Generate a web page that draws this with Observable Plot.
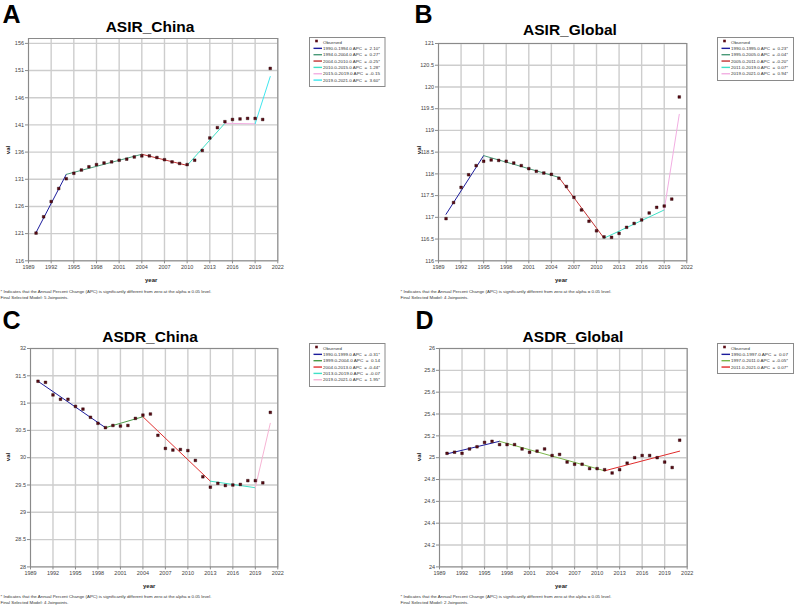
<!DOCTYPE html>
<html>
<head>
<meta charset="utf-8">
<script src="https://cdn.jsdelivr.net/npm/d3@7"></script>
<script src="https://cdn.jsdelivr.net/npm/@observablehq/plot@0.6"></script>
<style>
  html, body { margin: 0; padding: 0; background: #fff; }
  #page { position: relative; width: 797px; height: 611px; overflow: hidden; font-family: "Liberation Sans", Arial, sans-serif; }
  .abs { position: absolute; white-space: nowrap; }
  .letter { font-weight: bold; font-size: 25px; line-height: 1; color: #000; }
  .title { font-weight: bold; font-size: 15.5px; line-height: 1; color: #000; text-align: center; width: 200px; }
  .axlab { font-weight: bold; font-size: 6px; line-height: 1; color: #222; }
</style>
</head>
<body>
<div id="page"></div>
<script>
// ---------------- DATA ----------------
const years = [1990,1991,1992,1993,1994,1995,1996,1997,1998,1999,2000,2001,2002,2003,2004,2005,2006,2007,2008,2009,2010,2011,2012,2013,2014,2015,2016,2017,2018,2019,2020,2021];

const asirChina = [121.1,124.1,126.9,129.3,131.1,132.1,132.7,133.3,133.7,134.0,134.2,134.5,134.7,135.1,135.3,135.3,135.0,134.6,134.2,133.9,133.7,134.5,136.3,138.6,140.5,141.6,142.0,142.1,142.2,142.2,142.0,151.4];
const asirGlobal = [116.97,117.34,117.69,117.98,118.19,118.29,118.32,118.31,118.29,118.25,118.19,118.12,118.06,118.02,117.99,117.90,117.71,117.46,117.17,116.91,116.69,116.55,116.54,116.63,116.77,116.86,116.94,117.10,117.23,117.26,117.42,119.77];
const asdrChina = [31.40,31.38,31.15,31.07,31.07,30.94,30.89,30.74,30.63,30.55,30.59,30.58,30.59,30.72,30.78,30.80,30.41,30.17,30.14,30.15,30.13,29.95,29.65,29.46,29.53,29.49,29.50,29.51,29.58,29.58,29.54,30.83];
const asdrGlobal = [25.04,25.05,25.04,25.08,25.10,25.14,25.15,25.12,25.12,25.12,25.08,25.05,25.06,25.08,25.02,25.03,24.96,24.94,24.94,24.90,24.90,24.89,24.86,24.89,24.95,25.00,25.02,25.02,25.00,24.96,24.91,25.16];

// joinpoint fitted values at segment ends
const asirChinaJoinYears = [1990,1994,2004,2010,2015,2019,2021];
const asirChinaJoinVals  = [121.2,131.9,135.6,133.55,141.3,141.2,149.9];
const asirGlobalJoinYears = [1990,1995,2005,2011,2019,2021];
const asirGlobalJoinVals  = [117.07,118.42,117.92,116.52,117.17,119.37];
const asdrChinaJoinYears = [1990,1999,2004,2013,2019,2021];
const asdrChinaJoinVals  = [31.40,30.55,30.75,29.57,29.45,30.63];
const asdrGlobalJoinYears = [1990,1997,2011,2021];
const asdrGlobalJoinVals  = [25.035,25.15,24.88,25.06];

const asirChinaLegend = ["1990.0-1994.0 APC  =  2.10*","1994.0-2004.0 APC  =  0.27*","2004.0-2010.0 APC  = -0.25*","2010.0-2015.0 APC  =  1.28*","2015.0-2019.0 APC  = -0.15","2019.0-2021.0 APC  =  3.60*"];
const asirGlobalLegend = ["1990.0-1995.0 APC  =  0.23*","1995.0-2005.0 APC  = -0.04*","2005.0-2011.0 APC  = -0.20*","2011.0-2019.0 APC  =  0.07*","2019.0-2021.0 APC  =  0.94*"];
const asdrChinaLegend = ["1990.0-1999.0 APC  = -0.31*","1999.0-2004.0 APC  =  0.14","2004.0-2013.0 APC  = -0.44*","2013.0-2019.0 APC  = -0.07","2019.0-2021.0 APC  =  1.95*"];
const asdrGlobalLegend = ["1990.0-1997.0 APC  =  0.07","1997.0-2011.0 APC  = -0.05*","2011.0-2021.0 APC  =  0.07*"];

const xTicks = [1989,1992,1995,1998,2001,2004,2007,2010,2013,2016,2019,2022];
const asirChinaTicks = [116,121,126,131,136,141,146,151,156];
const asirGlobalTicks = [116,116.5,117,117.5,118,118.5,119,119.5,120,120.5,121];
const asdrChinaTicks = [28,28.5,29,29.5,30,30.5,31,31.5,32];
const asdrGlobalTicks = [24,24.2,24.4,24.6,24.8,25,25.2,25.4,25.6,25.8,26];

const footLine1 = "* Indicates that the Annual Percent Change (APC) is significantly different from zero at the alpha = 0.05 level.";

// ---------------- STYLE / LAYOUT ----------------
const segColors6 = ["#1c1c9c","#4a9a78","#c23232","#3fe0c6","#f2aee2","#3ee6ee"];
const segColorsD = ["#1c1c9c","#7ab64a","#e02a2a"];

const panels = [
  {letter:"A", title:"ASIR_China", obs: asirChina, jy: asirChinaJoinYears, jv: asirChinaJoinVals, legend: asirChinaLegend, colors: segColors6,
   yDomain:[116,156.9], yTicks: asirChinaTicks, frame:[27.7,277,37.7,260], letterPos:[2.5,1.5], titleX:150, titleTop:18.9,
   legendBox:[308.7,37.3,75.5,49], yearPos:[152,280], valPos:[8.3,150], footTop:293, footLeft:0, model:"Final Selected Model: 5 Joinpoints."},
  {letter:"B", title:"ASIR_Global", obs: asirGlobal, jy: asirGlobalJoinYears, jv: asirGlobalJoinVals, legend: asirGlobalLegend, colors: segColors6,
   yDomain:[116,121], yTicks: asirGlobalTicks, frame:[437.7,686,42.7,260], letterPos:[414.5,2], titleX:570, titleTop:21.9,
   legendBox:[717.3,37.3,76,43], yearPos:[562,280], valPos:[419,150], footTop:293, footLeft:400, model:"Final Selected Model: 4 Joinpoints."},
  {letter:"C", title:"ASDR_China", obs: asdrChina, jy: asdrChinaJoinYears, jv: asdrChinaJoinVals, legend: asdrChinaLegend, colors: ["#1c1c9c","#4a9a48","#e03030","#3fe0c6","#f6b4d4"],
   yDomain:[28,32], yTicks: asdrChinaTicks, frame:[29.7,277,348.3,566.7], letterPos:[2.5,307.5], titleX:150, titleTop:328.6,
   legendBox:[308.7,343.3,75.5,43], yearPos:[150,586], valPos:[8.3,457], footTop:598.3, footLeft:0, model:"Final Selected Model: 4 Joinpoints."},
  {letter:"D", title:"ASDR_Global", obs: asdrGlobal, jy: asdrGlobalJoinYears, jv: asdrGlobalJoinVals, legend: asdrGlobalLegend, colors: segColorsD,
   yDomain:[24,26], yTicks: asdrGlobalTicks, frame:[439,686.7,348.3,566.7], letterPos:[415.5,308], titleX:573, titleTop:328.6,
   legendBox:[717.3,343.3,76,30], yearPos:[562,586], valPos:[419,457], footTop:598.3, footLeft:400, model:"Final Selected Model: 2 Joinpoints."}
];

const page = document.getElementById("page");
function addDiv(cls, text, left, top, extra) {
  const d = document.createElement("div");
  d.className = "abs " + cls;
  if (text !== null) d.textContent = text;
  d.style.left = left + "px";
  d.style.top = top + "px";
  if (extra) Object.assign(d.style, extra);
  page.appendChild(d);
  return d;
}
function addSvg(left, top, w, h) {
  const s = d3.create("svg").attr("width", w).attr("height", h)
    .style("position", "absolute").style("left", left + "px").style("top", top + "px").style("overflow", "visible");
  page.appendChild(s.node());
  return s;
}
const fmt = d => String(+d.toFixed(2));
const FONT = "'Liberation Sans', Arial, sans-serif";

for (const p of panels) {
  const [fx0, fx1, fy0, fy1] = p.frame;
  const mL = 30, mR = 10, mT = 10, mB = 30;
  const W = (fx1 - fx0) + mL + mR, H = (fy1 - fy0) + mT + mB;

  const obsData = years.map((y, i) => ({year: y, val: p.obs[i]}));
  const segMarks = [];
  for (let i = 0; i < p.jy.length - 1; i++) {
    const seg = [{year: p.jy[i], val: p.jv[i]}, {year: p.jy[i+1], val: p.jv[i+1]}];
    segMarks.push(Plot.line(seg, {x: "year", y: "val", stroke: p.colors[i], strokeWidth: 1}));
  }

  const chart = Plot.plot({
    width: W, height: H,
    marginLeft: mL, marginRight: mR, marginTop: mT, marginBottom: mB,
    x: {domain: [1989, 2022]},
    y: {domain: p.yDomain},
    style: {fontSize: "5.5px", fontFamily: FONT, color: "#444", background: "transparent", overflow: "visible"},
    marks: [
      Plot.gridX({ticks: xTicks, stroke: "#cdcdcd", strokeOpacity: 1, strokeWidth: 1.4}),
      Plot.gridY({ticks: p.yTicks, stroke: "#cdcdcd", strokeOpacity: 1, strokeWidth: 1.4}),
      Plot.frame({stroke: "#8a8a8a", strokeWidth: 1}),
      Plot.axisX({ticks: xTicks, tickFormat: d => String(d), tickSize: 3, tickPadding: 1.5, label: null, stroke: "#8a8a8a"}),
      Plot.axisY({ticks: p.yTicks, tickFormat: fmt, tickSize: 3, tickPadding: 1.5, label: null, stroke: "#8a8a8a"}),
      ...segMarks,
      Plot.dot(obsData, {x: "year", y: "val", symbol: "square", r: 1.5, fill: "#5a0a14", stroke: "#200005", strokeWidth: 0.4})
    ]
  });
  chart.style.position = "absolute";
  chart.style.left = (fx0 - mL) + "px";
  chart.style.top = (fy0 - mT) + "px";
  page.appendChild(chart);

  // letter & title
  addDiv("letter", p.letter, p.letterPos[0], p.letterPos[1]);
  addDiv("title", p.title, p.titleX - 100, p.titleTop);

  // axis labels
  addDiv("axlab", "year", p.yearPos[0] - 7, p.yearPos[1] - 3);
  addDiv("axlab", "val", p.valPos[0] - 5, p.valPos[1] - 3, {transform: "rotate(-90deg)", transformOrigin: "50% 50%", width: "10px", textAlign: "center"});

  // footnotes (SVG text with fixed lengths)
  const fs = addSvg(p.footLeft, p.footTop - 3, 260, 12);
  fs.append("text").attr("x", 0.5).attr("y", 3.2).attr("font-family", FONT).attr("font-size", 4.3).attr("fill", "#333")
    .attr("textLength", 211).attr("lengthAdjust", "spacingAndGlyphs").text(footLine1);
  fs.append("text").attr("x", 0.5).attr("y", 8.7).attr("font-family", FONT).attr("font-size", 4.3).attr("fill", "#333")
    .attr("textLength", 68).attr("lengthAdjust", "spacingAndGlyphs").text(p.model);

  // legend
  const [lx, ly, lw, lh] = p.legendBox;
  const lg = addSvg(lx, ly, lw + 1, lh + 1);
  lg.append("rect").attr("x", 0.5).attr("y", 0.5).attr("width", lw).attr("height", lh).attr("fill", "#fff").attr("stroke", "#8a8a8a").attr("stroke-width", 1);
  const rows = ["Observed", ...p.legend];
  rows.forEach((t, i) => {
    const cy = 5 + i * 6.35;
    if (i === 0) {
      lg.append("rect").attr("x", 6.2).attr("y", cy - 2.3).attr("width", 2.6).attr("height", 2.6).attr("fill", "#5a0a14");
    } else {
      lg.append("line").attr("x1", 4.5).attr("x2", 13).attr("y1", cy).attr("y2", cy).attr("stroke", p.colors[i - 1]).attr("stroke-width", 1.4);
    }
    lg.append("text").attr("x", 14).attr("y", cy + 1.5).attr("font-family", FONT).attr("font-size", 4.4).attr("fill", "#333")
      .attr("xml:space", "preserve").style("white-space", "pre")
      .attr("textLength", i === 0 ? 19 : 57).attr("lengthAdjust", "spacingAndGlyphs").text(t);
  });
}
</script>
</body>
</html>
